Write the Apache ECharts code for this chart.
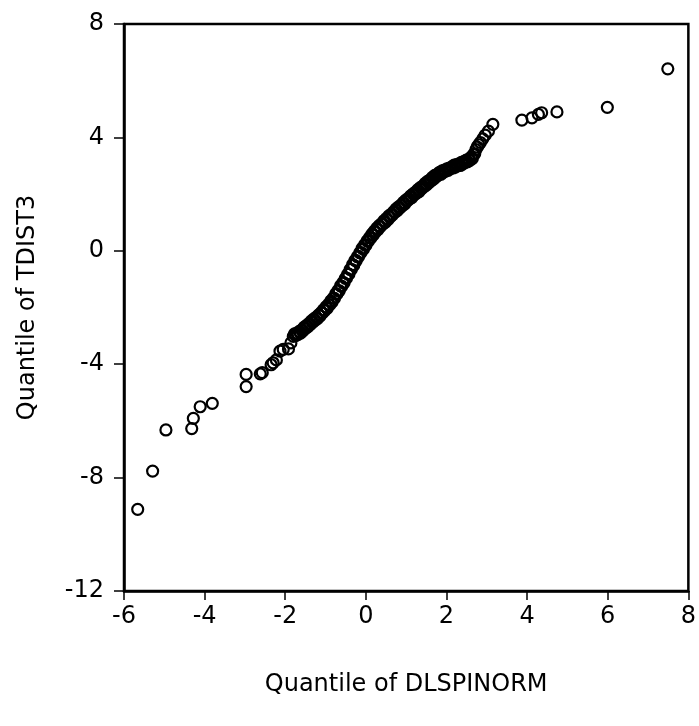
<!DOCTYPE html>
<html>
<head>
<meta charset="utf-8">
<script src="https://cdn.jsdelivr.net/npm/echarts@6/dist/echarts.min.js"></script>
<style>
html,body{margin:0;padding:0;background:#fff;}
#chart{width:699px;height:726px;}
</style>
</head>
<body>
<div id="chart"></div>
<script>
// Axis setup
const xTicks = [-6, -4, -2, 0, 2, 4, 6, 8];
const yTicks = [-12, -8, -4, 0, 4, 8];
const xTitle = 'Quantile of DLSPINORM';
const yTitle = 'Quantile of TDIST3';

// Lower tail (quantile of DLSPINORM, quantile of TDIST3)
const lowTailX = [-5.66, -5.29, -4.96, -4.32, -4.28, -4.11, -3.81, -2.97, -2.97, -2.62, -2.57, -2.35, -2.30, -2.22, -2.13, -2.05, -1.92, -1.86];
const lowTailY = [-9.12, -7.77, -6.32, -6.27, -5.91, -5.50, -5.38, -4.79, -4.36, -4.34, -4.30, -4.02, -3.95, -3.85, -3.54, -3.48, -3.46, -3.25];

// Dense body
const bodyX = [-1.80,-1.77,-1.74,-1.71,-1.68,-1.65,-1.62,-1.59,-1.56,-1.53,-1.50,-1.47,-1.44,-1.41,-1.38,-1.35,-1.32,-1.29,-1.26,-1.23,-1.20,-1.17,-1.14,-1.11,-1.08,-1.05,-1.02,-0.99,-0.96,-0.93,-0.90,-0.87,-0.84,-0.81,-0.78,-0.75,-0.72,-0.69,-0.66,-0.63,-0.60,-0.57,-0.54,-0.51,-0.48,-0.45,-0.42,-0.39,-0.36,-0.33,-0.30,-0.27,-0.24,-0.21,-0.18,-0.15,-0.12,-0.09,-0.06,-0.03,0.00,0.03,0.06,0.09,0.12,0.15,0.18,0.21,0.24,0.27,0.30,0.33,0.36,0.39,0.42,0.45,0.48,0.51,0.54,0.57,0.60,0.63,0.66,0.69,0.72,0.75,0.78,0.81,0.84,0.87,0.90,0.93,0.96,0.99,1.02,1.05,1.08,1.11,1.14,1.17,1.20,1.23,1.26,1.29,1.32,1.35,1.38,1.41,1.44,1.47,1.50,1.53,1.56,1.59,1.62,1.65,1.68,1.71,1.74,1.77,1.80,1.83,1.86,1.89,1.92,1.95,1.98,2.01,2.04,2.07,2.10,2.13,2.16,2.19,2.22,2.25,2.28,2.31,2.34,2.37,2.40,2.43,2.46,2.49,2.52,2.55,2.58,2.61,2.64,2.67,2.70,2.73,2.76,2.80,2.84,2.90,2.96,3.04,3.15];
const bodyY = [-3.02,-2.93,-2.99,-2.90,-2.95,-2.84,-2.90,-2.79,-2.82,-2.69,-2.74,-2.63,-2.68,-2.56,-2.60,-2.47,-2.52,-2.40,-2.45,-2.34,-2.39,-2.26,-2.30,-2.18,-2.20,-2.08,-2.11,-1.98,-2.03,-1.89,-1.91,-1.77,-1.81,-1.67,-1.68,-1.52,-1.53,-1.40,-1.41,-1.24,-1.25,-1.12,-1.13,-0.97,-0.96,-0.82,-0.82,-0.66,-0.65,-0.49,-0.51,-0.34,-0.35,-0.21,-0.20,-0.07,-0.06,0.09,0.06,0.22,0.19,0.35,0.33,0.46,0.45,0.59,0.55,0.69,0.67,0.80,0.75,0.89,0.85,0.96,0.94,1.06,1.00,1.14,1.09,1.23,1.19,1.29,1.27,1.38,1.36,1.48,1.42,1.55,1.51,1.61,1.59,1.71,1.65,1.79,1.75,1.85,1.82,1.94,1.88,2.01,1.97,2.07,2.04,2.16,2.09,2.23,2.19,2.28,2.26,2.38,2.32,2.45,2.40,2.50,2.47,2.59,2.53,2.66,2.61,2.70,2.67,2.77,2.70,2.82,2.77,2.85,2.81,2.89,2.84,2.92,2.90,2.96,2.92,3.02,2.95,3.04,3.00,3.07,3.01,3.12,3.06,3.15,3.12,3.20,3.14,3.23,3.19,3.30,3.25,3.40,3.42,3.57,3.66,3.74,3.82,3.95,4.08,4.22,4.46];

// Upper tail
const highTailX = [3.87, 4.12, 4.28, 4.36, 4.74, 5.99, 7.49];
const highTailY = [4.61, 4.69, 4.81, 4.87, 4.90, 5.06, 6.42];

const allX = lowTailX.concat(bodyX, highTailX);
const allY = lowTailY.concat(bodyY, highTailY);
const points = allX.map((x, i) => [x, allY[i]]);

const font = 'DejaVu Sans';
const chart = echarts.init(document.getElementById('chart'), null, {renderer: 'canvas'});
chart.setOption({
  animation: false,
  backgroundColor: '#ffffff',
  grid: {
    left: 124, right: 10, top: 24, bottom: 135,
    show: true, borderColor: '#000', borderWidth: 2.5, backgroundColor: 'transparent'
  },
  xAxis: {
    type: 'value',
    min: xTicks[0], max: xTicks[xTicks.length - 1], interval: 2,
    axisLine: {show: true, onZero: false, lineStyle: {color: '#000', width: 2.5}},
    axisTick: {show: true, inside: false, length: 9, lineStyle: {color: '#000', width: 1.5}},
    axisLabel: {margin: 14, fontSize: 24, color: '#000', fontFamily: font},
    splitLine: {show: false},
    name: xTitle, nameLocation: 'middle', nameGap: 82,
    nameTextStyle: {fontSize: 24, color: '#000', fontFamily: font}
  },
  yAxis: {
    type: 'value',
    min: yTicks[0], max: yTicks[yTicks.length - 1], interval: 4,
    axisLine: {show: true, onZero: false, lineStyle: {color: '#000', width: 2.5}},
    axisTick: {show: true, inside: false, length: 10, lineStyle: {color: '#000', width: 1.5}},
    axisLabel: {margin: 20, fontSize: 24, color: '#000', fontFamily: font},
    splitLine: {show: false},
    name: yTitle, nameLocation: 'middle', nameGap: 84,
    nameTextStyle: {fontSize: 24, color: '#000', fontFamily: font}
  },
  series: [{
    type: 'scatter',
    data: points,
    symbol: 'circle',
    symbolSize: 11,
    itemStyle: {color: 'rgba(0,0,0,0)', borderColor: '#000', borderWidth: 2.2, opacity: 1},
    emphasis: {disabled: true}
  }]
});
</script>
</body>
</html>
